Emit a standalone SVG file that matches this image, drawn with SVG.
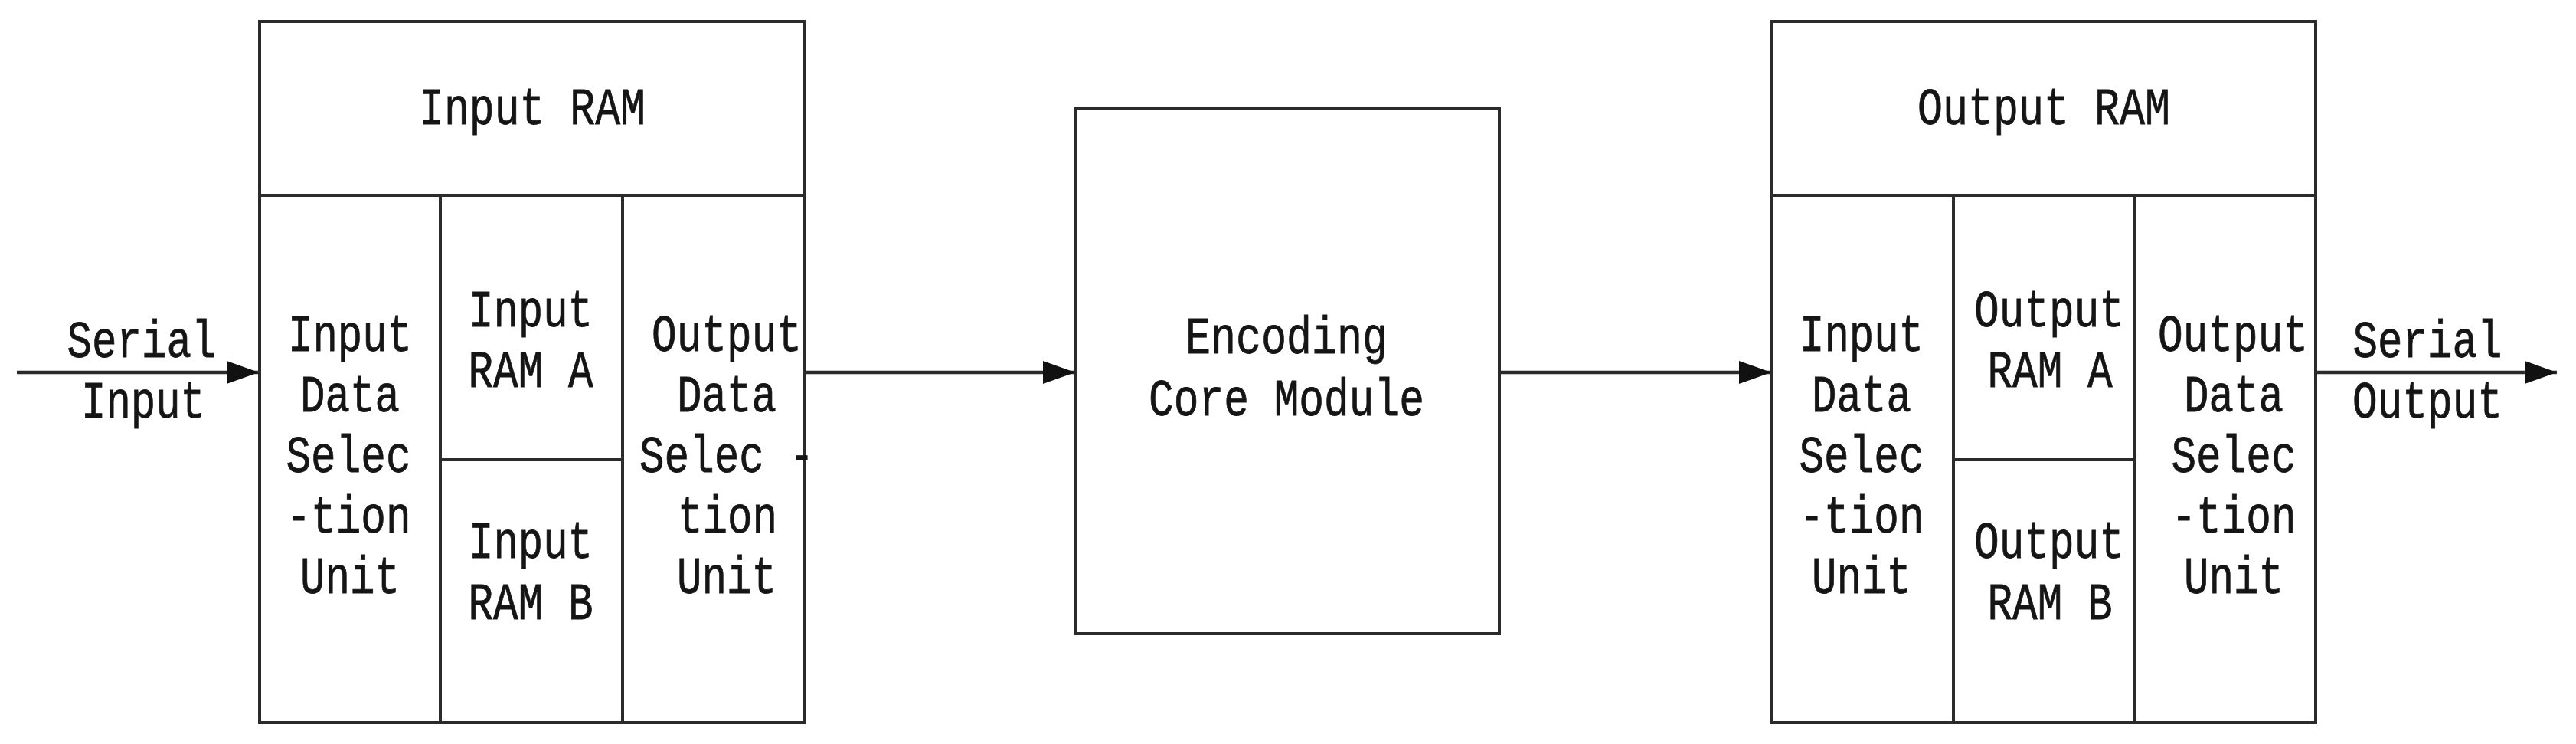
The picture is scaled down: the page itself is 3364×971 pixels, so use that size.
<svg xmlns="http://www.w3.org/2000/svg" width="3364" height="971" viewBox="0 0 3364 971">
<style>
.box{fill:#fff;stroke:#2b2b2b;stroke-width:4}
.ln{stroke:#2b2b2b;stroke-width:4;fill:none}
.conn{stroke:#2b2b2b;stroke-width:4.5;fill:none}
text{font-family:"Liberation Mono","DejaVu Sans Mono",monospace;font-size:68px;fill:#151515;stroke:#151515;stroke-width:0.8;text-anchor:middle}
</style>
<defs>
<marker id="ah" markerWidth="42" markerHeight="30" refX="42" refY="15" orient="auto" markerUnits="userSpaceOnUse">
<path d="M0,0 L42,15 L0,30 z" fill="#111"/>
</marker>
</defs>
<rect width="3364" height="971" fill="#fff"/>

<g id="connectors">
<line class="conn" x1="22" y1="486" x2="338" y2="486" marker-end="url(#ah)"/>
<line class="conn" x1="1050" y1="486" x2="1404" y2="486" marker-end="url(#ah)"/>
<line class="conn" x1="1958" y1="486" x2="2313" y2="486" marker-end="url(#ah)"/>
<line class="conn" x1="3024" y1="486" x2="3339" y2="486" marker-end="url(#ah)"/>
</g>

<g id="serial-input-label">
<text x="185" y="466" textLength="195" lengthAdjust="spacingAndGlyphs">Serial</text>
<text x="187" y="545" textLength="162" lengthAdjust="spacingAndGlyphs">Input</text>
</g>

<g id="input-ram">
<rect class="box" x="339" y="28" width="711" height="915"/>
<line class="ln" x1="339" y1="255" x2="1050" y2="255"/>
<line class="ln" x1="575" y1="255" x2="575" y2="943"/>
<line class="ln" x1="813" y1="255" x2="813" y2="943"/>
<line class="ln" x1="575" y1="600" x2="813" y2="600"/>
<text x="695" y="162" textLength="296" lengthAdjust="spacingAndGlyphs">Input RAM</text>
<g id="input-ram-input-sel">
<text x="457" y="458" textLength="162" lengthAdjust="spacingAndGlyphs">Input</text>
<text x="457" y="537" textLength="130" lengthAdjust="spacingAndGlyphs">Data</text>
<text x="455" y="616" textLength="163" lengthAdjust="spacingAndGlyphs">Selec</text>
<text x="455" y="695" textLength="163" lengthAdjust="spacingAndGlyphs">-tion</text>
<text x="457" y="774" textLength="130" lengthAdjust="spacingAndGlyphs">Unit</text>
</g>
<g id="input-ram-a">
<text x="693" y="426" textLength="162" lengthAdjust="spacingAndGlyphs">Input</text>
<text x="693" y="505" textLength="163" lengthAdjust="spacingAndGlyphs">RAM A</text>
</g>
<g id="input-ram-b">
<text x="693" y="728" textLength="162" lengthAdjust="spacingAndGlyphs">Input</text>
<text x="693" y="808" textLength="163" lengthAdjust="spacingAndGlyphs">RAM B</text>
</g>
<g id="input-ram-output-sel">
<text x="949" y="458" textLength="196" lengthAdjust="spacingAndGlyphs">Output</text>
<text x="949" y="537" textLength="130" lengthAdjust="spacingAndGlyphs">Data</text>
<text x="949" y="616" textLength="228" lengthAdjust="spacingAndGlyphs">Selec -</text>
<text x="950" y="695" textLength="130" lengthAdjust="spacingAndGlyphs">tion</text>
<text x="949" y="774" textLength="130" lengthAdjust="spacingAndGlyphs">Unit</text>
</g>
</g>

<g id="encoding-core">
<rect class="box" x="1405" y="142" width="553" height="685"/>
<text x="1680" y="461" textLength="264" lengthAdjust="spacingAndGlyphs">Encoding</text>
<text x="1680" y="542" textLength="360" lengthAdjust="spacingAndGlyphs">Core Module</text>
</g>

<g id="output-ram">
<rect class="box" x="2314" y="28" width="710" height="915"/>
<line class="ln" x1="2314" y1="255" x2="3024" y2="255"/>
<line class="ln" x1="2551" y1="255" x2="2551" y2="943"/>
<line class="ln" x1="2788" y1="255" x2="2788" y2="943"/>
<line class="ln" x1="2551" y1="600" x2="2788" y2="600"/>
<text x="2669" y="162" textLength="330" lengthAdjust="spacingAndGlyphs">Output RAM</text>
<g id="output-ram-input-sel">
<text x="2431" y="458" textLength="162" lengthAdjust="spacingAndGlyphs">Input</text>
<text x="2431" y="537" textLength="130" lengthAdjust="spacingAndGlyphs">Data</text>
<text x="2431" y="616" textLength="163" lengthAdjust="spacingAndGlyphs">Selec</text>
<text x="2431" y="695" textLength="163" lengthAdjust="spacingAndGlyphs">-tion</text>
<text x="2431" y="774" textLength="130" lengthAdjust="spacingAndGlyphs">Unit</text>
</g>
<g id="output-ram-a">
<text x="2676" y="426" textLength="196" lengthAdjust="spacingAndGlyphs">Output</text>
<text x="2677" y="505" textLength="163" lengthAdjust="spacingAndGlyphs">RAM A</text>
</g>
<g id="output-ram-b">
<text x="2676" y="728" textLength="196" lengthAdjust="spacingAndGlyphs">Output</text>
<text x="2677" y="808" textLength="163" lengthAdjust="spacingAndGlyphs">RAM B</text>
</g>
<g id="output-ram-output-sel">
<text x="2916" y="458" textLength="196" lengthAdjust="spacingAndGlyphs">Output</text>
<text x="2917" y="537" textLength="130" lengthAdjust="spacingAndGlyphs">Data</text>
<text x="2917" y="616" textLength="163" lengthAdjust="spacingAndGlyphs">Selec</text>
<text x="2917" y="695" textLength="163" lengthAdjust="spacingAndGlyphs">-tion</text>
<text x="2917" y="774" textLength="130" lengthAdjust="spacingAndGlyphs">Unit</text>
</g>
</g>

<g id="serial-output-label">
<text x="3170" y="466" textLength="195" lengthAdjust="spacingAndGlyphs">Serial</text>
<text x="3170" y="545" textLength="196" lengthAdjust="spacingAndGlyphs">Output</text>
</g>
</svg>
